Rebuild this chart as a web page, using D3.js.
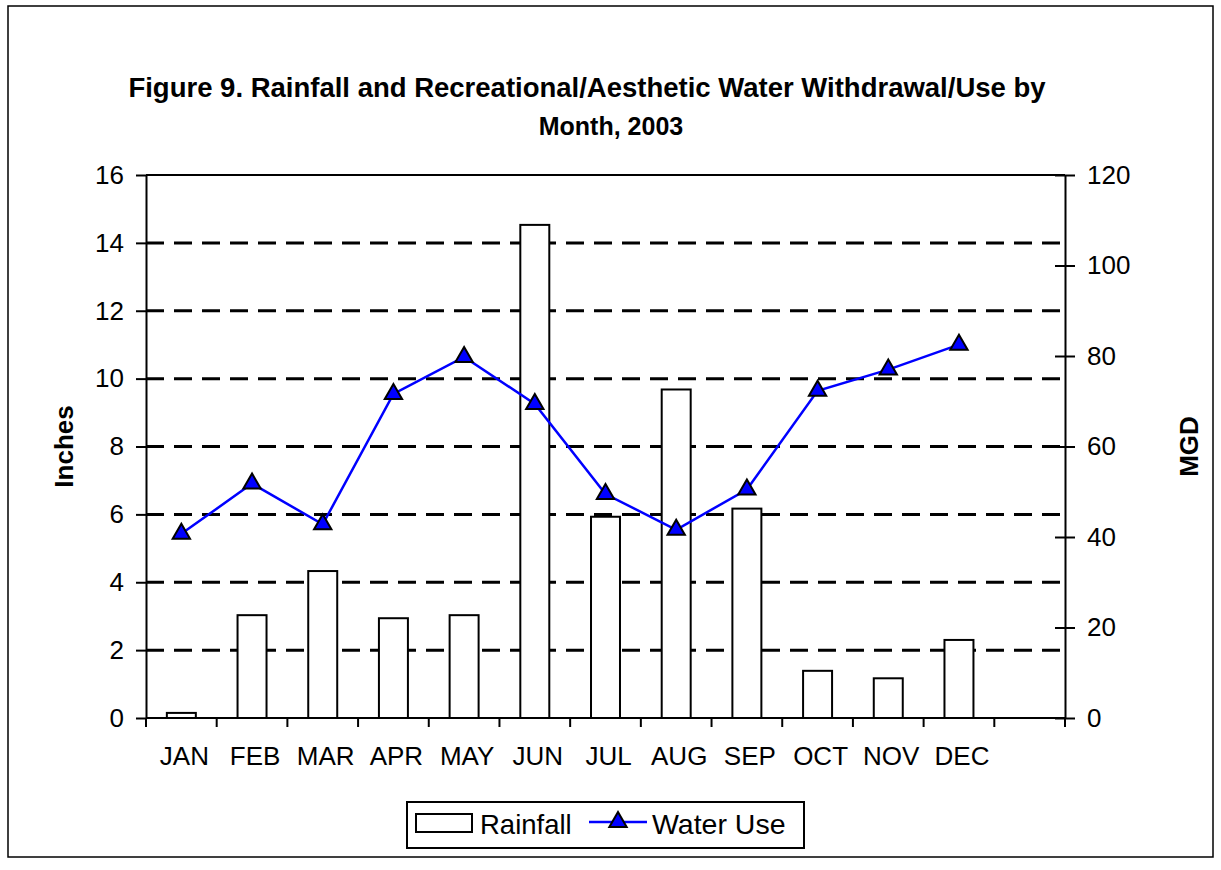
<!DOCTYPE html>
<html>
<head>
<meta charset="utf-8">
<script src="https://cdn.jsdelivr.net/npm/d3@7"></script>
<style>
  body { margin: 0; background: #fff; }
  svg text { font-family: "Liberation Sans", Arial, sans-serif; fill: #000; }
</style>
</head>
<body>
<script>
// chart values
var months = ["JAN", "FEB", "MAR", "APR", "MAY", "JUN", "JUL", "AUG", "SEP", "OCT", "NOV", "DEC"];
var rainfall = [0.15, 3.03, 4.33, 2.94, 3.03, 14.53, 5.93, 9.68, 6.17, 1.39, 1.17, 2.30];
var waterUse = [40.7, 51.8, 42.8, 71.6, 79.8, 69.4, 49.5, 41.6, 50.5, 72.3, 77.0, 82.5];
var inchTicks = [0, 2, 4, 6, 8, 10, 12, 14, 16];
var mgdTicks = [0, 20, 40, 60, 80, 100, 120];

var W = 1221, H = 870;
var plotL = 146, plotR = 1065, plotT = 175, plotB = 718;
var tickFont = 26;

var svg = d3.select("body").append("svg")
    .attr("width", W)
    .attr("height", H);

// outer chart border
svg.append("rect")
    .attr("x", 8).attr("y", 6)
    .attr("width", 1205).attr("height", 851)
    .attr("fill", "#fff")
    .attr("stroke", "#000")
    .attr("stroke-width", 1.5);

// title
var title = svg.append("text")
    .attr("text-anchor", "middle")
    .attr("font-weight", "bold");
title.append("tspan").attr("x", 587).attr("y", 97).attr("font-size", 27.5)
    .text("Figure 9. Rainfall and Recreational/Aesthetic Water Withdrawal/Use by");
title.append("tspan").attr("x", 611).attr("y", 135).attr("font-size", 25)
    .text("Month, 2003");

// scales; one empty slot after DEC like the original
var slots = months.concat([""]);
var x = d3.scaleBand().domain(slots).range([plotL, plotR]).padding(0);
var yL = d3.scaleLinear().domain([0, 16]).range([plotB, plotT]);
var yR = d3.scaleLinear().domain([0, 120]).range([plotB, plotT]);

// gridlines
svg.append("g").selectAll("line")
    .data(inchTicks.filter(function(d) { return d > 0 && d < 16; }))
    .enter().append("line")
    .attr("x1", plotL).attr("x2", plotR)
    .attr("y1", function(d) { return yL(d); })
    .attr("y2", function(d) { return yL(d); })
    .attr("stroke", "#000")
    .attr("stroke-width", 3)
    .attr("stroke-dasharray", "18,10");
svg.append("line")
    .attr("x1", plotL).attr("x2", plotR)
    .attr("y1", yL(16)).attr("y2", yL(16))
    .attr("stroke", "#000").attr("stroke-width", 2);

// bars
var bw = x.bandwidth() * 0.41;
svg.append("g").selectAll("rect")
    .data(rainfall)
    .enter().append("rect")
    .attr("x", function(d, i) { return x(months[i]) + x.bandwidth() / 2 - bw / 2; })
    .attr("y", function(d) { return yL(d); })
    .attr("width", bw)
    .attr("height", function(d) { return yL(0) - yL(d); })
    .attr("fill", "#fff")
    .attr("stroke", "#000")
    .attr("stroke-width", 2);

// left axis
var axL = svg.append("g")
    .attr("transform", "translate(" + plotL + ",0)")
    .call(d3.axisLeft(yL).tickValues(inchTicks).tickSize(10).tickSizeOuter(0).tickPadding(12));
axL.select(".domain").attr("stroke-width", 2);
axL.selectAll(".tick line").attr("stroke-width", 2);
axL.selectAll("text").attr("font-size", tickFont);

// right axis, ticks cross the line
var axR = svg.append("g")
    .attr("transform", "translate(" + plotR + ",0)")
    .call(d3.axisRight(yR).tickValues(mgdTicks).tickSize(10).tickSizeOuter(0).tickPadding(12));
axR.select(".domain").attr("stroke-width", 2);
axR.selectAll(".tick line").attr("x1", -10).attr("stroke-width", 2);
axR.selectAll("text").attr("font-size", tickFont);

// bottom axis: labels centred, ticks at slot borders
var axB = svg.append("g")
    .attr("transform", "translate(0," + plotB + ")")
    .call(d3.axisBottom(x).tickSize(0).tickSizeOuter(0).tickPadding(29));
axB.select(".domain").remove();
axB.selectAll("text").attr("font-size", tickFont).attr("dx", 3);
svg.append("line")
    .attr("x1", plotL).attr("x2", plotR)
    .attr("y1", plotB).attr("y2", plotB)
    .attr("stroke", "#000").attr("stroke-width", 2);
svg.append("g").selectAll("line")
    .data(slots.map(function(d) { return x(d); }).concat([plotR]))
    .enter().append("line")
    .attr("x1", function(d) { return d; })
    .attr("x2", function(d) { return d; })
    .attr("y1", plotB).attr("y2", plotB + 9)
    .attr("stroke", "#000").attr("stroke-width", 2);

// axis titles
svg.append("text")
    .attr("transform", "translate(73," + ((plotT + plotB) / 2) + ") rotate(-90)")
    .attr("text-anchor", "middle")
    .attr("font-weight", "bold")
    .attr("font-size", 26)
    .text("Inches");
svg.append("text")
    .attr("transform", "translate(1198," + ((plotT + plotB) / 2) + ") rotate(-90)")
    .attr("text-anchor", "middle")
    .attr("font-weight", "bold")
    .attr("font-size", 26)
    .text("MGD");

// water use line
var cx = function(d, i) { return x(months[i]) + x.bandwidth() / 2; };
var line = d3.line()
    .x(cx)
    .y(function(d) { return yR(d); });
svg.append("path")
    .datum(waterUse)
    .attr("d", line)
    .attr("fill", "none")
    .attr("stroke", "#0000ff")
    .attr("stroke-width", 2.5);

var tri = d3.symbol().type(d3.symbolTriangle).size(130);
svg.append("g").selectAll("path")
    .data(waterUse)
    .enter().append("path")
    .attr("d", tri)
    .attr("transform", function(d, i) { return "translate(" + cx(d, i) + "," + yR(d) + ")"; })
    .attr("fill", "#0000ff")
    .attr("stroke", "#000")
    .attr("stroke-width", 2);

// legend
var lg = svg.append("g");
lg.append("rect")
    .attr("x", 407).attr("y", 802)
    .attr("width", 397).attr("height", 46)
    .attr("fill", "#fff").attr("stroke", "#000").attr("stroke-width", 2);
lg.append("rect")
    .attr("x", 416).attr("y", 814)
    .attr("width", 56).attr("height", 18)
    .attr("fill", "#fff").attr("stroke", "#000").attr("stroke-width", 2);
lg.append("text")
    .attr("x", 480).attr("y", 834)
    .attr("font-size", 27.5)
    .text("Rainfall");
lg.append("line")
    .attr("x1", 589).attr("x2", 647)
    .attr("y1", 822).attr("y2", 822)
    .attr("stroke", "#0000ff").attr("stroke-width", 2.5);
lg.append("path")
    .attr("d", tri)
    .attr("transform", "translate(618,822)")
    .attr("fill", "#0000ff").attr("stroke", "#000").attr("stroke-width", 2);
lg.append("text")
    .attr("x", 652).attr("y", 834)
    .attr("font-size", 28.5)
    .text("Water Use");
</script>
</body>
</html>
